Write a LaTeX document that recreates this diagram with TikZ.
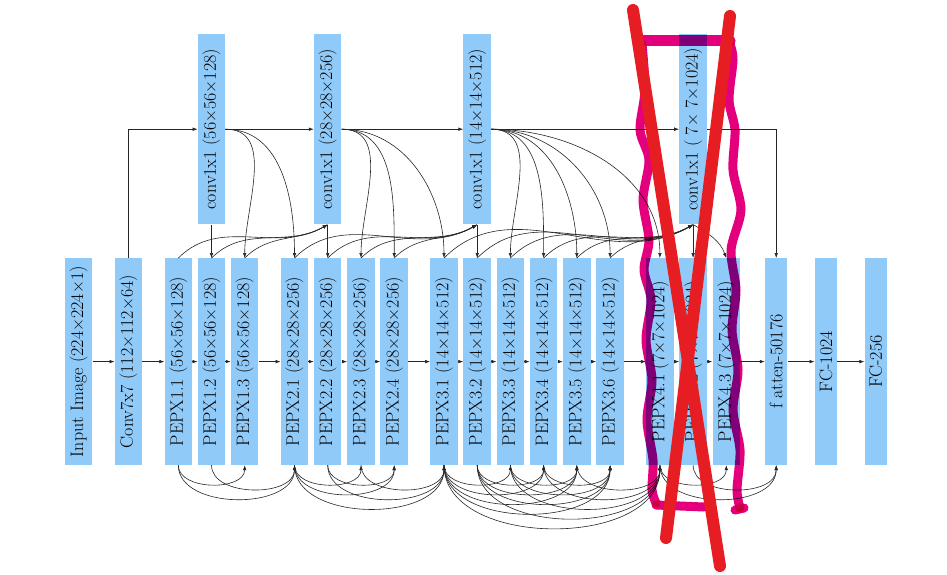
\documentclass[tikz,border=0pt]{standalone}
\usetikzlibrary{arrows.meta}
\definecolor{boxblue}{RGB}{144,202,249}
\definecolor{hlmag}{RGB}{228,0,124}
\definecolor{xred}{RGB}{230,30,35}
\begin{document}
\begin{tikzpicture}[x=1pt,y=1pt,
  blk/.style={rotate=90, fill=boxblue, inner sep=0pt, minimum width=206.7pt,
    minimum height=27.5pt, font=\fontsize{18}{21}\selectfont},
  narrow/.style={blk, minimum height=22.5pt},
  topblk/.style={blk, minimum width=190.3pt},
  arr/.style={-{Latex[length=5pt,width=3.6pt]}, line width=0.6pt, black!85},
  band/.style={hlmag, line width=9pt, line cap=round, line join=round},
  xline/.style={xred, line width=12pt, line cap=round}]
\useasboundingbox (0,0) rectangle (947,-575);
% bottom row (rotated nodes: .east = top, .west = bottom, .north = left, .south = right)
\node[blk] (inp)  at (78.7,-361.6)  {Input Image (224×224×1)};
\node[blk] (conv) at (128.5,-361.6) {Conv7x7 (112×112×64)};
\node[blk] (p11)  at (178.3,-361.6) {PEPX1.1 (56×56×128)};
\node[blk] (p12)  at (211.5,-361.6) {PEPX1.2 (56×56×128)};
\node[blk] (p13)  at (244.7,-361.6) {PEPX1.3 (56×56×128)};
\node[blk] (p21)  at (294.5,-361.6) {PEPX2.1 (28×28×256)};
\node[blk] (p22)  at (327.7,-361.6) {PEPX2.2 (28×28×256)};
\node[blk] (p23)  at (361.0,-361.6) {PEPX2.3 (28×28×256)};
\node[blk] (p24)  at (394.2,-361.6) {PEPX2.4 (28×28×256)};
\node[blk] (p31)  at (444.0,-361.6) {PEPX3.1 (14×14×512)};
\node[blk] (p32)  at (477.2,-361.6) {PEPX3.2 (14×14×512)};
\node[blk] (p33)  at (510.4,-361.6) {PEPX3.3 (14×14×512)};
\node[blk] (p34)  at (543.6,-361.6) {PEPX3.4 (14×14×512)};
\node[blk] (p35)  at (576.8,-361.6) {PEPX3.5 (14×14×512)};
\node[blk] (p36)  at (610.1,-361.6) {PEPX3.6 (14×14×512)};
\node[blk] (p41)  at (659.9,-361.6) {PEPX4.1 (7×7×1024)};
\node[blk] (p42)  at (693.1,-361.6) {PEPX4.2 (7×7×1024)};
\node[blk] (p43)  at (726.3,-361.6) {PEPX4.3 (7×7×1024)};
\node[narrow] (flat) at (776.2,-361.6) {f atten-50176};
\node[narrow] (fca)  at (826.0,-361.6) {FC-1024};
\node[narrow] (fcb)  at (875.8,-361.6) {FC-256};
% top row
\node[topblk] (c1) at (211.5,-129.2) {conv1x1 (56×56×128)};
\node[topblk] (c2) at (327.7,-129.2) {conv1x1 (28×28×256)};
\node[topblk] (c3) at (477.2,-129.2) {conv1x1 (14×14×512)};
\node[topblk] (c4) at (693.1,-129.2) {conv1x1 ( 7× 7×1024)};
% main chain
\foreach \a/\b in {inp/conv,conv/p11,p11/p12,p12/p13,p13/p21,p21/p22,p22/p23,p23/p24,
  p24/p31,p31/p32,p32/p33,p33/p34,p34/p35,p35/p36,p36/p41,p41/p42,p42/p43,p43/flat,
  flat/fca,fca/fcb}
  \draw[arr] (\a.south) -- (\b.north);
% top chain
\draw[arr] (conv.east) |- (c1.north);
\draw[arr] (c1.south) -- (c2.north);
\draw[arr] (c2.south) -- (c3.north);
\draw[arr] (c3.south) -- (c4.north);
\draw[arr] (c4.south) -| (flat.east);
% straight down
\foreach \a/\b in {c1/p12,c2/p22,c3/p32,c4/p42}
  \draw[arr] (\a.west) -- (\b.east);
% curves down from conv blocks
\foreach \a/\b in {c1/p13,c1/p21,c2/p23,c2/p24,c2/p31,
  c3/p33,c3/p34,c3/p35,c3/p36,c3/p41}
  \draw[arr] (\a.south) to[out=0,in=90] (\b.east);
\draw[arr] (c4.west) to[out=-30,in=110] (p43.east);
% curves up into next conv blocks
\foreach \a/\b in {p11/c2,p12/c2,p13/c2,p21/c3,p22/c3,p23/c3,p24/c3,
  p31/c4,p32/c4,p33/c4,p34/c4,p35/c4,p36/c4}
  \draw[arr] (\a.east) to[out=45,in=-150] (\b.west);
% dense arcs below
\foreach \a/\b in {p11/p13,p11/p21,p12/p21,
  p21/p23,p21/p24,p21/p31,p22/p24,p22/p31,p23/p31,
  p31/p33,p31/p34,p31/p35,p31/p36,p31/p41,p32/p34,p32/p35,p32/p36,p32/p41,
  p33/p35,p33/p36,p33/p41,p34/p36,p34/p41,p35/p41,
  p41/p43,p41/flat,p42/flat}
  \draw[arr] (\a.west) to[out=-90,in=-90] (\b.west);
% hand-drawn annotations
\begin{scope}[blend mode=multiply]
\draw[band, line width=11pt] (640,-41) -- (730,-41);
\draw[band] plot[smooth] coordinates {(642,-44) (645,-90) (640,-130) (649,-160) (643,-200)
  (649,-240) (644,-270) (651,-300) (646,-340) (652,-380) (647,-420) (653,-460) (652,-490) (656,-503)};
\draw[band] (656,-505) -- (704,-507);
\draw[band] plot[smooth] coordinates {(730,-44) (733,-60) (729,-100) (735,-130) (733,-170)
  (741,-210) (731,-250) (736,-290) (732,-330) (738,-370) (733,-410) (740,-450) (737,-490) (740,-508)};
\draw[band] (735,-510) -- (744,-508);
\end{scope}
\draw[xline] (633,-10) -- (720,-566);
\draw[xline] (730,-16) -- (666,-538);
\end{tikzpicture}
\end{document}
